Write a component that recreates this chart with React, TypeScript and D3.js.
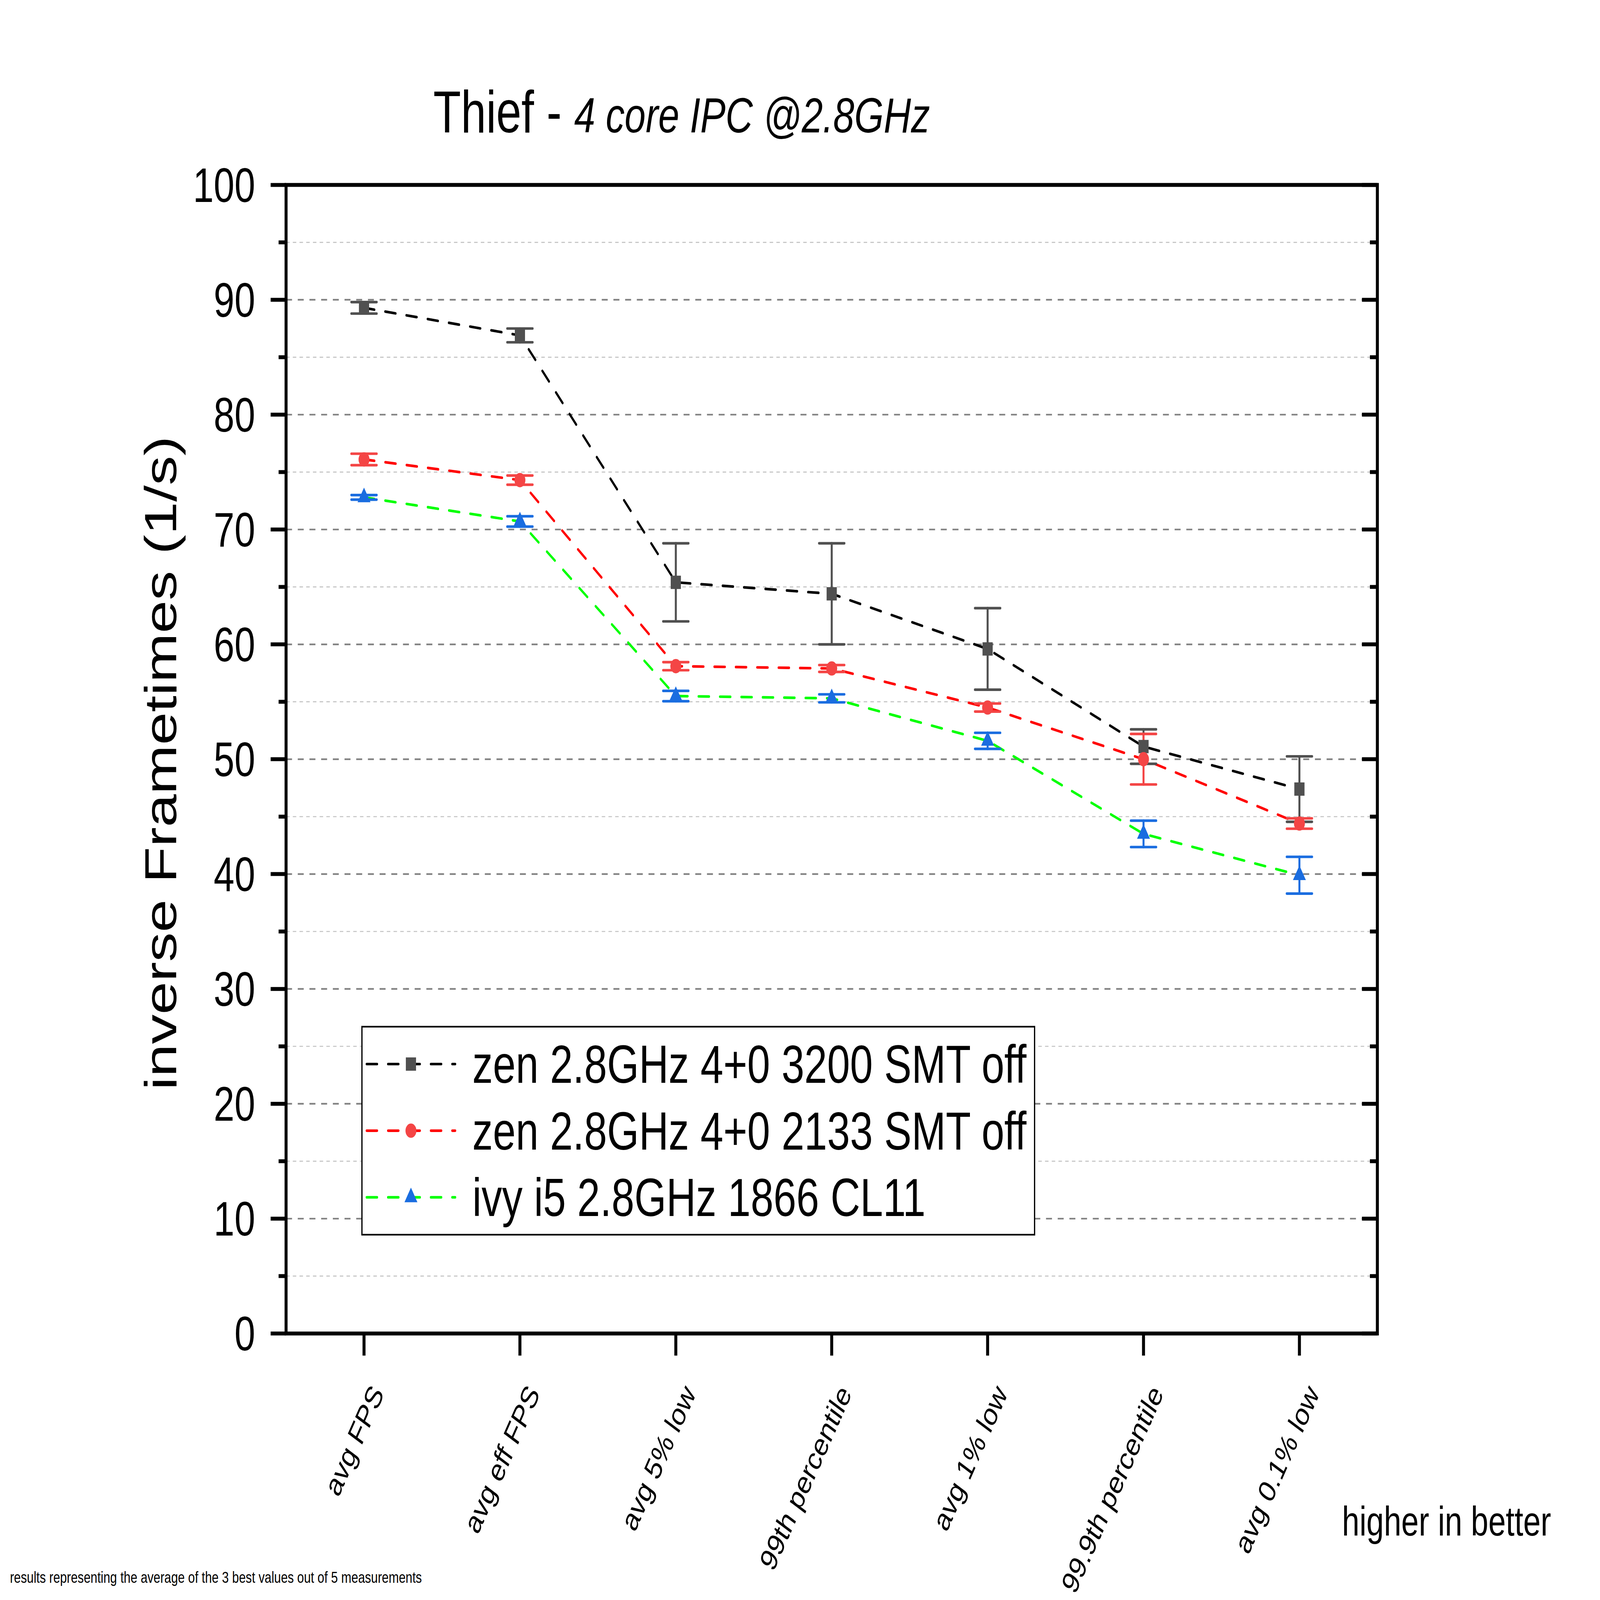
import * as d3 from 'd3';

const categories = ['avg FPS', 'avg eff FPS', 'avg 5% low', '99th percentile', 'avg 1% low', '99.9th percentile', 'avg 0.1% low'];

const zen3200 = [89.3, 86.9, 65.4, 64.4, 59.6, 51.1, 47.4];
const zen3200Err = [0.5, 0.6, 3.4, 4.4, 3.55, 1.5, 2.85];
const zen2133 = [76.1, 74.3, 58.1, 57.9, 54.5, 50.0, 44.4];
const zen2133Err = [0.5, 0.4, 0.35, 0.3, 0.35, 2.2, 0.45];
const ivy = [72.8, 70.7, 55.5, 55.3, 51.6, 43.5, 39.9];
const ivyErr = [0.2, 0.45, 0.45, 0.35, 0.7, 1.15, 1.6];

const seriesNames = ['zen 2.8GHz 4+0 3200 SMT off', 'zen 2.8GHz 4+0 2133 SMT off', 'ivy i5 2.8GHz 1866 CL11'];
const majorTicks = [0, 10, 20, 30, 40, 50, 60, 70, 80, 90, 100];
const minorTicks = [5, 15, 25, 35, 45, 55, 65, 75, 85, 95];

const W = 6432;
const H = 4923;
const left = 1150, right = 5537, top = 569, bottom = 4103;
const FONT = '"Liberation Sans", Arial, sans-serif';

const series = [
  { name: seriesNames[0], values: zen3200, err: zen3200Err, line: '#000000', mark: '#505050', symbol: d3.symbolSquare, size: 1681 },
  { name: seriesNames[1], values: zen2133, err: zen2133Err, line: '#ff0000', mark: '#f44545', symbol: d3.symbolCircle, size: 1520 },
  { name: seriesNames[2], values: ivy, err: ivyErr, line: '#00ff00', mark: '#1a6de0', symbol: d3.symbolTriangle, size: 1171 },
];

export default function App() {
  const x = d3.scalePoint<string>().domain(categories).range([left, right]).padding(0.5);
  const y = d3.scaleLinear().domain([0, 100]).range([bottom, top]);

  const legendRows = [3274, 3479, 3684];

  return (
    <svg viewBox={`0 0 ${W} ${H}`} preserveAspectRatio="none"
      style={{ position: 'fixed', left: 0, top: 0, width: '100vw', height: '100vh', background: '#fff' }}
      fontFamily={FONT}>
      <rect x={0} y={0} width={W} height={H} fill="#fff" />

      {/* gridlines */}
      {minorTicks.map(t => (
        <line key={'mn' + t} x1={left} x2={right} y1={y(t)} y2={y(t)} stroke="#c8c8c8" strokeWidth={3.5} strokeDasharray="14 13" />
      ))}
      {majorTicks.filter(t => t > 0 && t < 100).map(t => (
        <line key={'mj' + t} x1={left} x2={right} y1={y(t)} y2={y(t)} stroke="#808080" strokeWidth={5} strokeDasharray="24 23" />
      ))}

      {/* series lines */}
      {series.map(s => {
        const path = d3.line<number>().x((_, i) => x(categories[i])!).y(v => y(v))(s.values);
        return <path key={'l' + s.name} d={path!} fill="none" stroke={s.line} strokeWidth={8} strokeDasharray="42 44" strokeLinecap="round" />;
      })}

      {/* error bars */}
      {series.map(s => s.values.map((v, i) => {
        const cx = x(categories[i])!;
        const y1 = y(v + s.err[i]);
        const y2 = y(v - s.err[i]);
        return (
          <g key={'e' + s.name + i} stroke={s.mark} strokeWidth={8} strokeLinecap="round">
            <line x1={cx} x2={cx} y1={y1} y2={y2} />
            <line x1={cx - 51} x2={cx + 51} y1={y1} y2={y1} />
            <line x1={cx - 51} x2={cx + 51} y1={y2} y2={y2} />
          </g>
        );
      }))}

      {/* markers */}
      {series.map(s => s.values.map((v, i) => (
        <path key={'m' + s.name + i} d={d3.symbol().type(s.symbol).size(s.size)()!} transform={`translate(${x(categories[i])},${y(v)})`} fill={s.mark} />
      )))}

      {/* frame */}
      <rect x={left} y={top} width={right - left} height={bottom - top} fill="none" stroke="#000" strokeWidth={12} />

      {/* y ticks */}
      {majorTicks.map(t => (
        <g key={'yt' + t} stroke="#000" strokeWidth={12}>
          <line x1={left - 62} x2={left} y1={y(t)} y2={y(t)} />
          <line x1={right - 62} x2={right} y1={y(t)} y2={y(t)} />
        </g>
      ))}
      {minorTicks.map(t => (
        <g key={'ym' + t} stroke="#000" strokeWidth={12}>
          <line x1={left - 30} x2={left} y1={y(t)} y2={y(t)} />
          <line x1={right - 30} x2={right} y1={y(t)} y2={y(t)} />
        </g>
      ))}
      {majorTicks.map(t => (
        <text key={'yl' + t} x={1026} y={y(t) + 52} textAnchor="end" fontSize={150} fill="#000">{t}</text>
      ))}

      {/* x ticks and labels */}
      {categories.map(c => (
        <line key={'xt' + c} x1={x(c)} x2={x(c)} y1={bottom} y2={bottom + 68} stroke="#000" strokeWidth={12} />
      ))}
      {categories.map(c => (
        <text key={'xl' + c} textAnchor="end" fontSize={97} fill="#000"
          transform={`translate(${x(c)! + 83},${4288}) rotate(-60)`}>{c}</text>
      ))}

      {/* axis title */}
      <text transform="translate(708,2348) rotate(-90)" textAnchor="middle" fontSize={182} fill="#000">inverse Frametimes (1/s)</text>

      {/* chart title */}
      <text x={1742} y={408} fontSize={182} fill="#000">
        Thief - <tspan fontStyle="italic" fontSize={152}>4 core IPC @2.8GHz</tspan>
      </text>

      {/* legend */}
      <rect x={1455} y={3159} width={2704} height={640} fill="#fff" stroke="#000" strokeWidth={5} />
      {series.map((s, i) => (
        <g key={'lg' + s.name}>
          <line x1={1474} x2={1830} y1={legendRows[i]} y2={legendRows[i]} stroke={s.line} strokeWidth={8} strokeDasharray="42 44" strokeLinecap="round" />
          <path d={d3.symbol().type(s.symbol).size(s.size)()!} transform={`translate(1652,${legendRows[i]})`} fill={s.mark} />
          <text x={1899} y={legendRows[i] + 58} fontSize={165} fill="#000">{s.name}</text>
        </g>
      ))}

      <text x={5395} y={4725} fontSize={126} fill="#000">higher in better</text>
      <text x={40} y={4870} fontSize={49} fill="#000">results representing the average of the 3 best values out of 5 measurements</text>
    </svg>
  );
}
